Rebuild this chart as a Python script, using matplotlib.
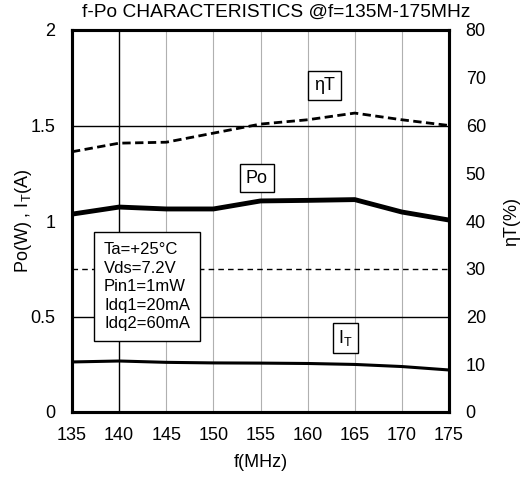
import matplotlib.pyplot as plt

plt.rcParams['font.family'] = ['Liberation Sans', 'DejaVu Sans']

# data
freq = [135, 140, 145, 150, 155, 160, 165, 170, 175]
po_w = [1.036, 1.073, 1.063, 1.063, 1.105, 1.108, 1.112, 1.047, 1.005]
it_a = [0.262, 0.267, 0.260, 0.257, 0.256, 0.254, 0.249, 0.238, 0.220]
eta_pct = [54.5, 56.3, 56.5, 58.4, 60.3, 61.2, 62.6, 61.2, 60.0]

x_ticks = [135, 140, 145, 150, 155, 160, 165, 170, 175]
left_ticks = [0, 0.5, 1, 1.5, 2]
right_ticks = [0, 10, 20, 30, 40, 50, 60, 70, 80]

fig = plt.figure(figsize=(5.22, 4.79), dpi=100)
ax = fig.add_axes([72 / 522, 1 - 412 / 479, 377 / 522, 382 / 479])
ax2 = ax.twinx()

ax.set_xlim(135, 175)
ax.set_ylim(0, 2)
ax2.set_ylim(0, 80)

# grid
for x in x_ticks[2:-1]:
    ax.axvline(x, color='#b0b0b0', lw=0.8, zorder=1)
ax.axvline(140, color='black', lw=1.0, zorder=1)
ax.axhline(1.5, color='black', lw=1.0, zorder=1)
ax.axhline(0.5, color='black', lw=1.0, zorder=1)
ax.axhline(0.75, color='black', lw=1.0, ls=(0, (4, 3)), zorder=1)

ax.plot(freq, po_w, color='black', lw=3.5, zorder=3)
ax.plot(freq, it_a, color='black', lw=2.2, zorder=3)
ax2.plot(freq, eta_pct, color='black', lw=2.0, ls=(0, (3, 1.6)), zorder=3)

ax.set_xticks(x_ticks)
ax.set_yticks(left_ticks)
ax.set_yticklabels(['0', '0.5', '1', '1.5', '2'])
ax2.set_yticks(right_ticks)
ax.tick_params(axis='x', length=0, labelsize=13, pad=11)
ax.tick_params(axis='y', length=0, labelsize=13, pad=12)
ax2.tick_params(axis='y', length=0, labelsize=13, pad=12)
for a in (ax, ax2):
    for s in a.spines.values():
        s.set_linewidth(2.2)

ax.set_xlabel('f(MHz)', fontsize=13, labelpad=7)
ax.set_ylabel('Po(W) , I$_\\mathregular{T}$(A)', fontsize=13, labelpad=-3)
ax2.set_ylabel('ηT(%)', fontsize=13, labelpad=12)
fig.text(276 / 522, 1 - 12 / 479, 'f-Po CHARACTERISTICS @f=135M-175MHz',
         fontsize=13.8, ha='center', va='center')

box = dict(boxstyle='square,pad=0.32', fc='white', ec='black', lw=1.0)
ax.text(161.8, 1.71, 'ηT', fontsize=13, ha='center', va='center', bbox=box, zorder=5)
ax.text(154.6, 1.225, 'Po', fontsize=13, ha='center', va='center', bbox=box, zorder=5)
ax.text(164.0, 0.387, 'I$_\\mathregular{T}$', fontsize=13, ha='center', va='center',
        bbox=dict(boxstyle='square,pad=0.28', fc='white', ec='black', lw=1.0), zorder=5)
ax.text(138.4, 0.89, 'Ta=+25°C\nVds=7.2V\nPin1=1mW\nIdq1=20mA\nIdq2=60mA',
        fontsize=12, ha='left', va='top', linespacing=1.3,
        bbox=dict(boxstyle='square,pad=0.6', fc='white', ec='black', lw=1.0), zorder=5)

fig.savefig('out.png', dpi=100)
